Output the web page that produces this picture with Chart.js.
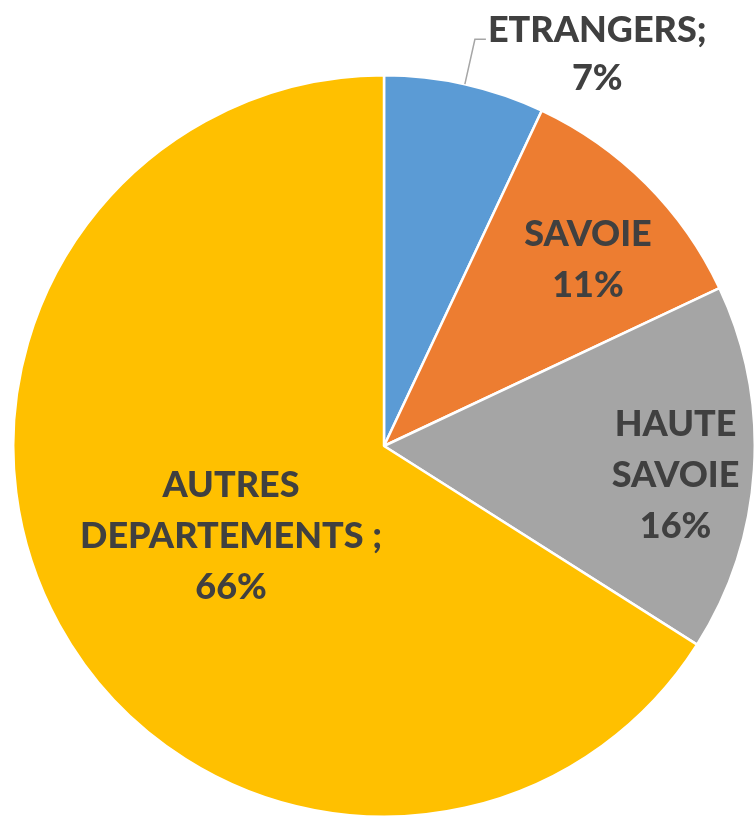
<!DOCTYPE html>
<html>
<head>
<meta charset="utf-8">
<script src="https://cdn.jsdelivr.net/npm/chart.js@4.4.0/dist/chart.umd.min.js"></script>
<style>
  body { margin: 0; background: #fff; }
  canvas { display: block; }
</style>
</head>
<body>
<canvas id="origine" width="756" height="819"></canvas>
<script>
// origine des visiteurs (%)
var categories = ['ETRANGERS', 'SAVOIE', 'HAUTE SAVOIE', 'AUTRES DEPARTEMENTS'];
var valeurs = [7, 11, 16, 66];
// texte des etiquettes, ligne par ligne
var etiquettes = [
    ['ETRANGERS;', '7%'],
    ['SAVOIE', '11%'],
    ['HAUTE', 'SAVOIE', '16%'],
    ['AUTRES', 'DEPARTEMENTS ;', '66%']
];
var couleurs = ['#5B9BD5', '#ED7D31', '#A5A5A5', '#FFC000'];

// position radiale de l'etiquette (fraction du rayon), null = etiquette exterieure
var rayonEtiquette = [null, 0.74, 0.78, 0.48];
// petit decalage (px) facon "meilleur ajustement" d'Excel
var decalage = [[0, 0], [10, 8], [3, 11], [3, 5]];

var FONT = '900 36px Lato, "Open Sans", sans-serif';
var LIGNE = 51;

var etiquettesPlugin = {
    id: 'etiquettes',
    afterDatasetsDraw: function(chart) {
        var ctx = chart.ctx;
        var meta = chart.getDatasetMeta(0);
        ctx.save();
        ctx.font = FONT;
        ctx.fillStyle = '#404040';
        ctx.textBaseline = 'middle';
        meta.data.forEach(function(arc, i) {
            var p = arc.getProps(['x', 'y', 'startAngle', 'endAngle', 'outerRadius'], true);
            var mid = (p.startAngle + p.endAngle) / 2;
            var lignes = etiquettes[i];
            if (rayonEtiquette[i] !== null) {
                var r = p.outerRadius * rayonEtiquette[i];
                var cx = p.x + Math.cos(mid) * r + decalage[i][0];
                var cy = p.y + Math.sin(mid) * r + decalage[i][1];
                ctx.textAlign = 'center';
                var y0 = cy - (lignes.length - 1) * LIGNE / 2;
                lignes.forEach(function(t, k) {
                    ctx.fillText(t, cx, y0 + k * LIGNE);
                });
            } else {
                // etiquette exterieure avec trait de rappel
                var ex = p.x + Math.cos(mid) * p.outerRadius;
                var ey = p.y + Math.sin(mid) * p.outerRadius;
                var bx = ex + Math.cos(mid) * 46;
                var by = ey + Math.sin(mid) * 46;
                ctx.strokeStyle = '#A6A6A6';
                ctx.lineWidth = 1.5;
                ctx.beginPath();
                ctx.moveTo(ex, ey);
                ctx.lineTo(bx, by);
                ctx.lineTo(bx + 11, by);
                ctx.stroke();
                var largeur = 0;
                lignes.forEach(function(t) { largeur = Math.max(largeur, ctx.measureText(t).width); });
                var tx = bx + 13 + largeur / 2;
                ctx.textAlign = 'center';
                lignes.forEach(function(t, k) {
                    ctx.fillText(t, tx, by - 9 + k * 48);
                });
            }
        });
        ctx.restore();
    }
};

document.addEventListener('DOMContentLoaded', function() {
    var ctx = document.getElementById('origine').getContext('2d');
    new Chart(ctx, {
        type: 'pie',
        data: {
            labels: categories,
            datasets: [{
                data: valeurs,
                backgroundColor: couleurs,
                borderColor: '#FFFFFF',
                borderWidth: 2.5
            }]
        },
        options: {
            responsive: false,
            animation: false,
            layout: { padding: { left: 12, right: 0, top: 74, bottom: 1 } },
            plugins: {
                legend: { display: false },
                tooltip: { enabled: false }
            }
        },
        plugins: [etiquettesPlugin]
    });
});
</script>
</body>
</html>
